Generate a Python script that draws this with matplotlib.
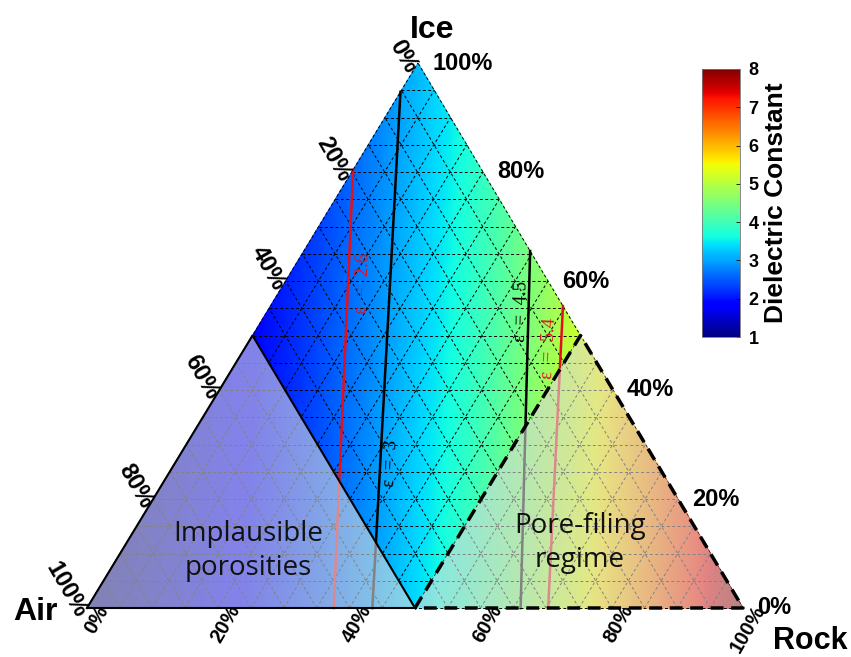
import matplotlib
matplotlib.use('Agg')
import matplotlib.pyplot as plt
import matplotlib.tri as mtri
from matplotlib.transforms import offset_copy
from matplotlib.colors import Normalize
from matplotlib.cm import ScalarMappable
import numpy as np

plt.rcParams['font.family'] = ['Liberation Sans', 'DejaVu Sans']

# end-member dielectric constants (air, water ice, rock)
eps_air = 1.0
eps_ice = 3.15
eps_rock = 8.0

cbar_ticks = [1, 2, 3, 4, 5, 6, 7, 8]
pct_ticks = [0, 20, 40, 60, 80, 100]

line_names = ['ε  =  2.6', 'ε  =  3', 'ε  =  4.5', 'ε  =  5.4']
line_colors = ['#e3101c', 'black', 'black', '#e3101c']
top_ice = [0.804, 0.947, 0.655, 0.554]
top_rock = [0.0, 0.0, 0.345, 0.446]
bot_rock = [0.376, 0.435, 0.661, 0.703]

# shaded regions
air_limit = 0.5     # air fraction above which porosity is implausible
rock_limit = 0.5    # rock fraction above which pores are filled

# triangle corners, figure pixels
AIR = (87, 608)
ROCK = (743, 608)
ICE = (418, 63)


def tern(rock, ice):
    rock = np.asarray(rock, float)
    ice = np.asarray(ice, float)
    x = AIR[0] + rock * (ROCK[0] - AIR[0]) + ice * (ICE[0] - AIR[0])
    y = AIR[1] + rock * (ROCK[1] - AIR[1]) + ice * (ICE[1] - AIR[1])
    return x, y


fig = plt.figure(figsize=(8.51, 6.57), dpi=100)
ax = fig.add_axes([0, 0, 1, 1])
ax.set_xlim(0, 851)
ax.set_ylim(657, 0)
ax.axis('off')

# mixing field (Looyenga)
n = 120
ice_f, rock_f = [], []
for i in range(n + 1):
    for j in range(n + 1 - i):
        ice_f.append(i / n)
        rock_f.append(j / n)
ice_f = np.array(ice_f)
rock_f = np.array(rock_f)
air_f = 1 - ice_f - rock_f
eps = (air_f * eps_air ** (1 / 3) + ice_f * eps_ice ** (1 / 3)
       + rock_f * eps_rock ** (1 / 3)) ** 3
fx, fy = tern(rock_f, ice_f)
ax.tripcolor(mtri.Triangulation(fx, fy), eps, cmap='jet', vmin=1, vmax=8,
             shading='gouraud', zorder=1)

# 5% grid
for k in range(21):
    f = k / 20
    for r0, i0, r1, i1 in [(0, f, 1 - f, f), (f, 0, f, 1 - f), (1 - f, 0, 0, 1 - f)]:
        gx, gy = tern([r0, r1], [i0, i1])
        ax.plot(gx, gy, color='black', lw=0.7, ls=(0, (3, 2.5)), zorder=2)

# iso-lines and their labels
label_t = [0.26, 0.72, 0.17, 0.14]
label_dx = [15, 11, -7, -12]
for name, c, ti, tr, br, t, dx in zip(line_names, line_colors, top_ice, top_rock,
                                      bot_rock, label_t, label_dx):
    lx, ly = tern([tr, br], [ti, 0])
    ax.plot(lx, ly, color=c, lw=1.8, zorder=3)
    ang = np.degrees(np.arctan2(ly[1] - ly[0], lx[0] - lx[1]))
    px = lx[0] + t * (lx[1] - lx[0]) + dx
    py = ly[0] + t * (ly[1] - ly[0])
    ax.text(px, py, name, color=c, rotation=ang, rotation_mode='anchor',
            ha='center', va='center', fontsize=13.5, family='Liberation Serif', zorder=6)

shade = dict(facecolor='#dadada', alpha=0.6, edgecolor='none', zorder=4)

# implausible porosities
ix, iy = tern([0, 0, 1 - air_limit, 0], [0, air_limit, 0, 0])
ax.fill(ix, iy, **shade)
ax.plot(ix, iy, color='black', lw=1.5, zorder=5)

# pore-filling regime
qx, qy = tern([rock_limit, rock_limit, 1, rock_limit], [0, 1 - rock_limit, 0, 0])
ax.fill(qx, qy, **shade)
ax.plot(qx, qy, color='black', lw=2.5, ls=(0, (3.7, 2.2)), zorder=5)

ax.text(248, 551, 'Implausible\nporosities', ha='center', va='center',
        fontsize=20, family='Open Sans', linespacing=1.25, color='#111111', zorder=7)
ax.text(580, 543, 'Pore-filing\nregime', ha='center', va='center',
        fontsize=20, family='Open Sans', linespacing=1.25, color='#111111', zorder=7)

# tick labels on the three sides
tr_bottom = offset_copy(ax.transData, fig=fig, x=9, y=6, units='dots')
tr_right = offset_copy(ax.transData, fig=fig, x=14, y=0, units='dots')
tr_left = offset_copy(ax.transData, fig=fig, x=-6, y=-8, units='dots')
for p in pct_ticks:
    f = p / 100
    bx, by = tern(f, 0)
    ax.text(bx, by, f'{p}%', transform=tr_bottom, rotation=60, rotation_mode='anchor',
            ha='right', va='top', fontsize=14.5, fontweight='bold')
    rx, ry = tern(1 - f, f)
    ax.text(rx, ry, f'{p}%', transform=tr_right, ha='left', va='center',
            fontsize=17, fontweight='bold')
    lx, ly = tern(0, 1 - f)
    ax.text(lx, ly, f'{p}%', transform=tr_left, rotation=-60, rotation_mode='anchor',
            ha='right', va='center', fontsize=17, fontweight='bold')

ax.text(ICE[0] + 14, ICE[1] - 33, 'Ice', ha='center', va='center', fontsize=23, fontweight='bold')
ax.text(AIR[0] - 52, AIR[1] + 4, 'Air', ha='center', va='center', fontsize=23, fontweight='bold')
ax.text(ROCK[0] + 67, ROCK[1] + 33, 'Rock', ha='center', va='center', fontsize=22, fontweight='bold')

# colorbar
cax = fig.add_axes([0.825, 0.487, 0.0447, 0.408])
cb = fig.colorbar(ScalarMappable(Normalize(1, 8), 'jet'), cax=cax, ticks=cbar_ticks)
cb.outline.set_linewidth(0.6)
cb.outline.set_edgecolor('#777777')
cax.tick_params(labelsize=13, direction='in', length=3, width=0.6, pad=6)
for lab in cax.get_yticklabels():
    lab.set_fontweight('bold')
cb.set_label('Dielectric Constant', fontsize=19, fontweight='bold', labelpad=4)

fig.savefig('out.png', dpi=100)
